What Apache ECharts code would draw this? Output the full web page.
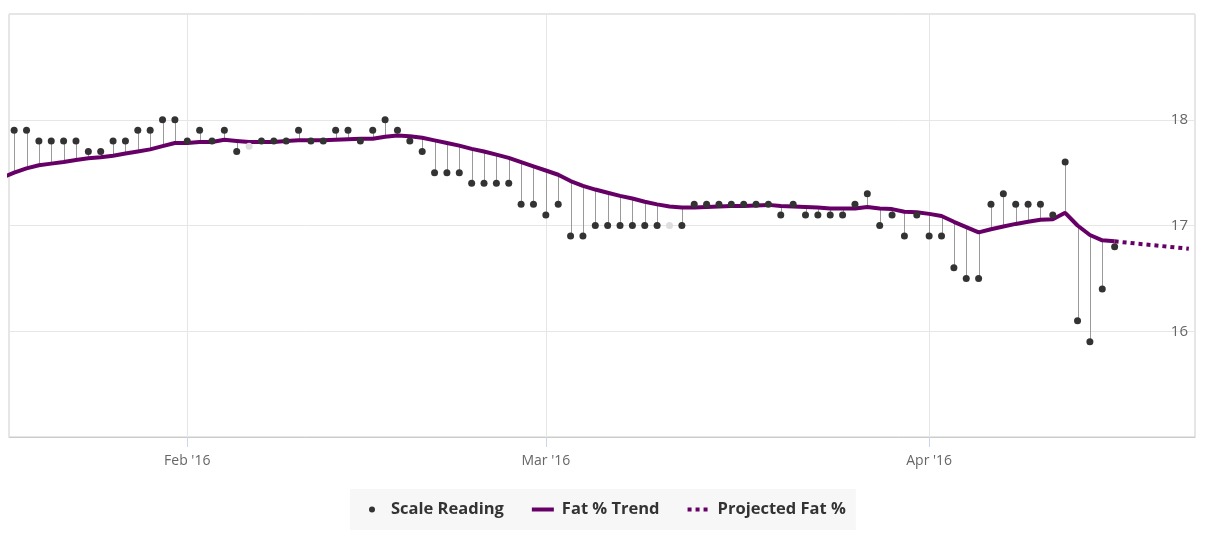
<!DOCTYPE html>
<html>
<head>
<meta charset="utf-8">
<script src="https://cdn.jsdelivr.net/npm/echarts@6/dist/echarts.min.js"></script>
<style>html,body{margin:0;padding:0;background:#fff}#c{width:1210px;height:533px}</style>
</head>
<body>
<div id="c"></div>
<script>
// ---- data ----
const firstReadingDay = [2016, 0, 18];          // Jan 18, 2016, one reading per day
const readings = [
  17.9, 17.9, 17.8, 17.8, 17.8, 17.8, 17.7, 17.7, 17.8, 17.8, 17.9, 17.9, 18.0, 18.0,          // Jan 18-31
  17.8, 17.9, 17.8, 17.9, 17.7, 17.75, 17.8, 17.8, 17.8, 17.9, 17.8, 17.8, 17.9, 17.9, 17.8,   // Feb 1-15
  17.9, 18.0, 17.9, 17.8, 17.7, 17.5, 17.5, 17.5, 17.4, 17.4, 17.4, 17.4, 17.2, 17.2,          // Feb 16-29
  17.1, 17.2, 16.9, 16.9, 17.0, 17.0, 17.0, 17.0, 17.0, 17.0, 17.0, 17.0, 17.2, 17.2, 17.2,    // Mar 1-15
  17.2, 17.2, 17.2, 17.2, 17.1, 17.2, 17.1, 17.1, 17.1, 17.1, 17.2, 17.3, 17.0, 17.1, 16.9, 17.1, // Mar 16-31
  16.9, 16.9, 16.6, 16.5, 16.5, 17.2, 17.3, 17.2, 17.2, 17.2, 17.1, 17.6, 16.1, 15.9, 16.4, 16.8  // Apr 1-16
];
const excludedDays = ['2016-02-06', '2016-03-11'];   // readings drawn faded, without stem
const firstTrendDay = [2016, 0, 17];             // trend starts one day earlier (clipped)
const trend = [
  17.45,                                                                                        // Jan 17
  17.50, 17.54, 17.57, 17.585, 17.60, 17.62, 17.635, 17.645, 17.66, 17.68, 17.70, 17.72, 17.75, 17.78, // Jan 18-31
  17.78, 17.79, 17.79, 17.81, 17.80, 17.79, 17.79, 17.79, 17.80, 17.805, 17.805, 17.805, 17.81, 17.815, 17.82, // Feb 1-15
  17.82, 17.84, 17.85, 17.845, 17.83, 17.805, 17.78, 17.755, 17.725, 17.70, 17.67, 17.64, 17.60, 17.56,         // Feb 16-29
  17.52, 17.48, 17.42, 17.375, 17.34, 17.31, 17.28, 17.255, 17.225, 17.20, 17.18, 17.17, 17.17, 17.175, 17.18, // Mar 1-15
  17.185, 17.185, 17.19, 17.195, 17.185, 17.18, 17.175, 17.17, 17.16, 17.16, 17.16, 17.175, 17.16, 17.155, 17.13, 17.125, // Mar 16-31
  17.11, 17.09, 17.035, 16.985, 16.935, 16.965, 16.99, 17.015, 17.035, 17.055, 17.06, 17.12, 17.00, 16.91, 16.86, 16.85     // Apr 1-16
];
const projectedDays = ['2016-04-16', '2016-04-22'];
const projected = [16.85, 16.78];
const yTicks = [16, 17, 18];
const monthNames = ['Jan','Feb','Mar','Apr','May','Jun','Jul','Aug','Sep','Oct','Nov','Dec'];

// ---- helpers ----
const dayTs = (y, m, d) => new Date(y, m, d).getTime();
const parseDay = s => { const p = s.split('-').map(Number); return dayTs(p[0], p[1] - 1, p[2]); };
const excludedTs = excludedDays.map(parseDay);

const readingPts = [], excludedPts = [], stemPts = [];
readings.forEach((v, i) => {
  const t = dayTs(firstReadingDay[0], firstReadingDay[1], firstReadingDay[2] + i);
  const tr = trend[i + 1];
  if (excludedTs.indexOf(t) >= 0) { excludedPts.push([t, v]); }
  else { readingPts.push([t, v]); stemPts.push([t, v, tr]); }
});
const trendPts = trend.map((v, i) => [dayTs(firstTrendDay[0], firstTrendDay[1], firstTrendDay[2] + i), v]);
const projPts = projected.map((v, i) => [parseDay(projectedDays[i]), v]);

const FONT = '"Open Sans", "Noto Sans", sans-serif';
const PURPLE = '#660066';
// legend icons, each in a 25x6 box so the text gap matches
const ICON_DOT = 'path://M0,0L0,0 M25,6L25,6 M8,3A3,3 0 1,0 14,3A3,3 0 1,0 8,3Z';
const ICON_LINE = 'path://M0,0L0,0 M25,6L25,6 M0,1H22V5H0Z';
const ICON_DOTS = 'path://M0,0L0,0 M25,6L25,6 M0,1H4V5H0Z M8,1H12V5H8Z M16,1H20V5H16Z';

const chart = echarts.init(document.getElementById('c'), null, {renderer: 'canvas'});
chart.setOption({
  animation: false,
  textStyle: {fontFamily: FONT},
  grid: {left: 9, right: 15, top: 14, bottom: 96, show: true, borderColor: '#cccccc', borderWidth: 1, backgroundColor: '#fff'},
  legend: {
    left: 350, top: 489,
    padding: [12, 10, 12, 11],
    backgroundColor: '#f7f7f7',
    itemWidth: 25, itemHeight: 6, itemGap: 28,
    textStyle: {fontFamily: FONT, fontWeight: 'bold', fontSize: 16.5, color: '#333333'},
    data: [
      {name: 'Scale Reading', icon: ICON_DOT},
      {name: 'Fat % Trend', icon: ICON_LINE},
      {name: 'Projected Fat %', icon: ICON_DOTS}
    ]
  },
  xAxis: {
    type: 'time',
    min: new Date(2016, 0, 17, 14).getTime(),
    max: new Date(2016, 3, 22, 12).getTime(),
    minInterval: 28 * 86400000,
    maxInterval: 31 * 86400000,
    axisLine: {show: true, lineStyle: {color: '#cccccc', width: 1}},
    axisTick: {show: true, length: 10, lineStyle: {color: '#ccd6eb'}},
    splitLine: {show: true, lineStyle: {color: '#e6e6e6'}},
    minorTick: {show: false},
    axisLabel: {
      color: '#666666', fontSize: 14, margin: 17, fontFamily: FONT,
      formatter: v => {
        const d = new Date(v);
        if (d.getDate() !== 1 || d.getHours() !== 0) return '';
        return monthNames[d.getMonth()] + " '" + String(d.getFullYear()).slice(2);
      }
    }
  },
  yAxis: {
    type: 'value', position: 'right', min: 15, max: 19, interval: 1,
    axisLine: {show: false}, axisTick: {show: false},
    splitLine: {show: true, lineStyle: {color: '#e6e6e6'}},
    axisLabel: {
      inside: true, margin: 7, color: '#666666', fontSize: 15, fontFamily: FONT,
      formatter: v => (yTicks.indexOf(v) >= 0 ? String(v) : '')
    }
  },
  series: [
    {
      name: 'stems', type: 'custom', silent: true, z: 2,
      encode: {x: 0, y: [1, 2]},
      data: stemPts,
      renderItem: (params, api) => {
        const a = api.coord([api.value(0), api.value(1)]);
        const b = api.coord([api.value(0), api.value(2)]);
        const x = Math.round(a[0]) + 0.5;
        return {type: 'line', shape: {x1: x, y1: a[1], x2: x, y2: b[1]}, style: {stroke: '#9a9a9a', lineWidth: 1}};
      }
    },
    {
      name: 'Fat % Trend', type: 'line', z: 3, data: trendPts,
      symbol: 'none', smooth: false, color: PURPLE,
      lineStyle: {color: PURPLE, width: 4}
    },
    {
      name: 'Projected Fat %', type: 'line', z: 3, data: projPts,
      symbol: 'none', color: PURPLE,
      lineStyle: {color: PURPLE, width: 4, type: [4, 4], cap: 'butt'}
    },
    {
      name: 'excluded', type: 'scatter', z: 4, data: excludedPts,
      symbolSize: 7, itemStyle: {color: '#dedede', opacity: 1}, silent: true
    },
    {
      name: 'Scale Reading', type: 'scatter', z: 5, data: readingPts,
      symbolSize: 7, itemStyle: {color: '#333333', opacity: 1}
    }
  ]
});
</script>
</body>
</html>
